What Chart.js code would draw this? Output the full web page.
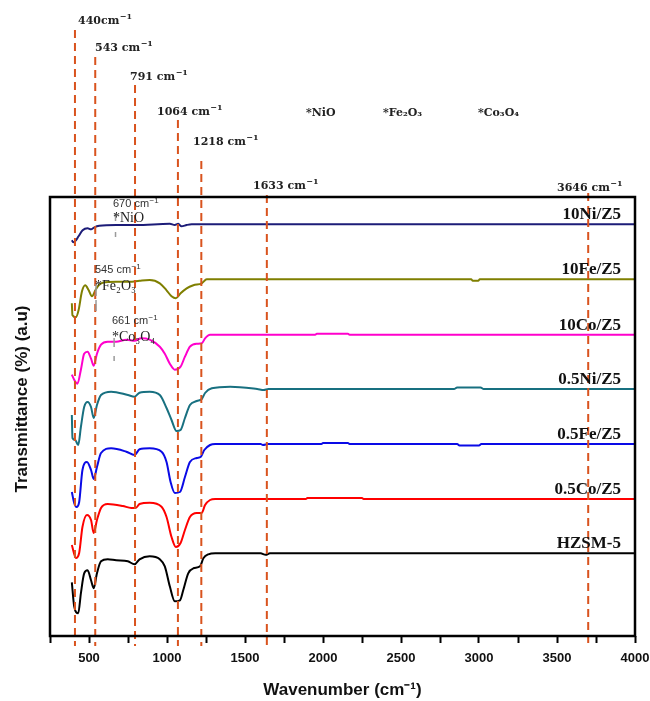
<!DOCTYPE html>
<html><head><meta charset="utf-8">
<script src="https://cdn.jsdelivr.net/npm/chart.js@4/dist/chart.umd.min.js"></script>
<style>html,body{margin:0;padding:0;background:#fff}canvas{display:block}</style>
</head><body><canvas id="c" width="650" height="701"></canvas>
<script>
// ---- data (wavenumber, deviation from each curve's flat baseline, a.u.) ----
const seriesNames = ['10Ni/Z5','10Fe/Z5','10Co/Z5','0.5Ni/Z5','0.5Fe/Z5','0.5Co/Z5','HZSM-5'];
const seriesOffsets = [411.7, 356.7, 301.3, 247, 192, 137, 82.7];

const ni10 = [[390,-16],[399,-18],[416,-16],[433,-12],[459,-6],[491,-4],[513,-5],[534,-3],[566,-1.5],[674,-0.7],[803,-0.7],[1018,0.5],[1050,-0.7],[1072,0.5],[1093,-2],[1126,-0.7],[1158,0],[4000,0]];
const fe10 = [[390,-24],[394,-36],[416,-38],[433,-31],[455,-12],[476,-6],[498,-11],[519,-17],[541,-11],[562,-6],[588,-3.4],[674,-2.4],[760,-2.4],[824,-1.4],[889,-0.7],[954,-4],[997,-11],[1029,-17],[1057,-19],[1087,-14],[1126,-9],[1169,-6],[1223,-4],[1255,0],[2950,0],[2960,-1.5],[2995,-1.5],[3005,0],[4000,0]];
const co10 = [[390,-40],[405,-45],[426,-49],[448,-35],[469,-19],[491,-17],[513,-24],[530,-31],[551,-19],[577,-10],[620,-7],[674,-7],[739,-5],[792,-6],[835,-3.6],[889,-5],[954,-12],[986,-19],[1018,-29],[1050,-35],[1087,-32],[1115,-22],[1147,-12],[1191,-9],[1223,-8.6],[1244,-3.6],[1276,0],[1950,0],[1960,1],[2160,1],[2170,0],[4000,0]];
const ni05 = [[390,-26],[394,-49],[411,-51],[431,-56],[448,-38],[469,-18],[491,-13],[513,-18],[530,-29],[551,-16],[577,-6],[642,-2.7],[749,-6],[792,-7.7],[824,-3.7],[889,-2.7],[954,-6],[997,-19],[1029,-31],[1061,-42],[1087,-41],[1115,-29],[1147,-16],[1191,-12],[1223,-10],[1244,-4],[1287,0.7],[1405,2.3],[1578,0],[1621,-1],[1650,0],[2840,0],[2860,1.5],[3010,1.5],[3030,0],[4000,0]];
const fe05 = [[390,-48],[405,-59],[420,-63],[437,-58],[458,-26],[487,-18],[513,-26],[530,-35],[551,-23],[577,-9],[642,-4.3],[739,-7.7],[792,-11],[824,-5.3],[889,-4.3],[965,-7.7],[997,-18],[1023,-38],[1050,-49],[1083,-48],[1115,-33],[1147,-18],[1191,-14],[1217,-12.7],[1239,-6],[1276,-1],[1309,0],[1600,0],[1615,-1],[1650,0],[1990,0],[2000,1],[2160,1],[2170,0],[2860,0],[2875,-1.5],[3000,-1.5],[3015,0],[4000,0]];
const co05 = [[390,-46],[416,-59],[437,-54],[458,-28],[487,-16],[513,-21],[530,-34],[551,-21],[577,-9],[620,-5],[717,-7],[771,-9],[799,-9],[824,-5],[889,-3.7],[965,-7.7],[997,-18],[1029,-38],[1057,-48],[1087,-44],[1115,-31],[1147,-18],[1191,-14],[1223,-13.7],[1244,-6],[1276,-1],[1309,0],[1890,0],[1900,1],[2250,1],[2260,0],[4000,0]];
const hzsm5 = [[390,-29],[405,-53],[431,-60],[448,-40],[469,-20],[491,-17],[513,-27],[530,-35],[551,-20],[577,-8],[620,-6],[674,-7],[749,-8],[792,-11],[824,-6],[889,-3],[954,-6],[986,-13],[1018,-33],[1050,-48],[1083,-47],[1104,-37],[1136,-20],[1169,-15],[1212,-13],[1233,-5],[1265,-1],[1309,0],[1600,0],[1633,-1.5],[1660,0],[4000,0]];
const seriesData = [ni10, fe10, co10, ni05, fe05, co05, hzsm5];

const peakPositions = [410, 540, 795, 1070, 1220, 1640, 3700];
const peakLabels = ['440', '543', '791', '1064', '1218', '1633', '3646'];
const phaseNames = ['*NiO', '*Fe\u2082O\u2083', '*Co\u2083O\u2084'];
const phasePeaks = [670, 545, 661];
const phasePeakLabels = ['670', '545', '661'];
const xTickPositions = [250,500,750,1000,1250,1500,1750,2000,2250,2500,2750,3000,3250,3500,3750,4000];
const xTickLabels = [500,1000,1500,2000,2500,3000,3500,4000];

// ---- styles / layout ----
const seriesColors = ['#1c1c78','#7f7f00','#ff00cc','#187080','#0a0ae6','#ff0000','#000000'];
const peakColor = '#d9531e';
const peakLineTops = [30, 57, 85, 120, 161, 195, 193];
const peakLabelAt = [[78,24],[95,51],[130,80],[157,115],[193,145],[253,189],[557,191]];
const phaseTopAt = [[306,116],[383,116],[478,116]];
const phaseInnerAt = [[113,207,113,222],[95,273,95,290],[112,324,112,341]];
const phaseMarks = [[[213,221],[232,237]],[[284,296],[300,311]],[[338,347],[356,361]]];
const topFont = 'bold 11px "DejaVu Serif"';
const topSupFont = 'bold 8px "DejaVu Serif"';

function supText(ctx, x, y, main, sup, font, supFont, rise) {
  ctx.font = font; ctx.textAlign = 'left'; ctx.textBaseline = 'alphabetic';
  ctx.fillText(main, x, y);
  const w = ctx.measureText(main).width;
  ctx.font = supFont;
  ctx.fillText(sup, x + w + 0.5, y - rise);
}

const decor = {
  id: 'decor',
  afterDatasetsDraw(chart) {
    const ctx = chart.ctx, xs = chart.scales.x, ys = chart.scales.y, ca = chart.chartArea;
    ctx.save();
    // dashed peak lines
    ctx.strokeStyle = peakColor; ctx.lineWidth = 2; ctx.setLineDash([8,5]);
    peakPositions.forEach((wn, i) => {
      const px = xs.getPixelForValue(wn);
      ctx.beginPath(); ctx.moveTo(px, peakLineTops[i]); ctx.lineTo(px, ca.bottom + 10); ctx.stroke();
    });
    ctx.setLineDash([]);
    // gray phase marks
    ctx.strokeStyle = '#9a9a9a'; ctx.lineWidth = 1.5;
    phasePeaks.forEach((wn, i) => {
      const px = xs.getPixelForValue(wn);
      phaseMarks[i].forEach(([a,b]) => { ctx.beginPath(); ctx.moveTo(px, a); ctx.lineTo(px, b); ctx.stroke(); });
    });
    // frame
    ctx.strokeStyle = '#000'; ctx.lineWidth = 2.5;
    ctx.strokeRect(ca.left, ca.top, ca.right - ca.left, ca.bottom - ca.top);
    // peak labels
    ctx.fillStyle = '#222';
    peakLabels.forEach((t, i) => {
      const [x, y] = peakLabelAt[i];
      supText(ctx, x, y, i === 0 ? t + 'cm' : t + ' cm', '\u22121', topFont, topSupFont, 5);
    });
    phaseNames.forEach((t, i) => {
      ctx.font = topFont; ctx.textAlign = 'left';
      ctx.fillText(t, phaseTopAt[i][0], phaseTopAt[i][1]);
    });
    // inner phase annotations
    phaseNames.forEach((t, i) => {
      const [x1, y1, x2, y2] = phaseInnerAt[i];
      ctx.fillStyle = '#333';
      supText(ctx, x1, y1, phasePeakLabels[i] + ' cm', '\u22121', '11px "Liberation Sans"', '8px "Liberation Sans"', 4);
      ctx.font = '14px "Liberation Serif"'; ctx.fillStyle = '#222';
      ctx.fillText(t, x2, y2);
    });
    // series labels
    ctx.fillStyle = '#111'; ctx.font = 'bold 17px "Liberation Serif"'; ctx.textAlign = 'right';
    seriesNames.forEach((n, i) => {
      ctx.fillText(n, 621, ys.getPixelForValue(seriesOffsets[i]) - 5);
    });
    // y title
    ctx.translate(22, 399); ctx.rotate(-Math.PI / 2);
    ctx.font = 'bold 17px "Liberation Sans"'; ctx.textAlign = 'center'; ctx.textBaseline = 'middle';
    ctx.fillStyle = '#111';
    ctx.fillText('Transmittance (%) (a.u)', 0, 0);
    ctx.restore();
  }
};

const datasets = seriesData.map((s, i) => ({
  label: seriesNames[i],
  data: s.map(([x, r]) => ({ x: x, y: seriesOffsets[i] + r })),
  borderColor: seriesColors[i],
  borderWidth: 2,
  pointRadius: 0,
  fill: false,
  cubicInterpolationMode: 'monotone'
}));

new Chart(document.getElementById('c'), {
  type: 'line',
  data: { datasets },
  options: {
    responsive: false, animation: false, devicePixelRatio: 1,
    layout: { padding: { left: 50, right: 15, top: 197, bottom: 0 } },
    plugins: { legend: { display: false }, tooltip: { enabled: false } },
    scales: {
      x: {
        type: 'linear', min: 250, max: 4000,
        afterBuildTicks: s => { s.ticks = xTickPositions.map(v => ({ value: v })); },
        afterFit: s => { s.paddingRight = 0; s.paddingLeft = 0; },
        ticks: {
          autoSkip: false, maxRotation: 0, padding: 8, color: '#111',
          font: { family: 'Liberation Sans', weight: 'bold', size: 13 },
          callback: v => xTickLabels.includes(v) ? String(v) : ''
        },
        grid: { drawOnChartArea: false, drawTicks: true, tickLength: 7, tickWidth: 2, tickColor: '#000' },
        border: { display: false },
        title: {
          display: true, text: 'Wavenumber (cm\u207B\u00B9)', color: '#111',
          font: { family: 'Liberation Sans', weight: 'bold', size: 17 },
          padding: { top: 6, bottom: 0 }
        }
      },
      y: { type: 'linear', min: 0, max: 439, display: false }
    }
  },
  plugins: [decor]
});
</script>
</body></html>
